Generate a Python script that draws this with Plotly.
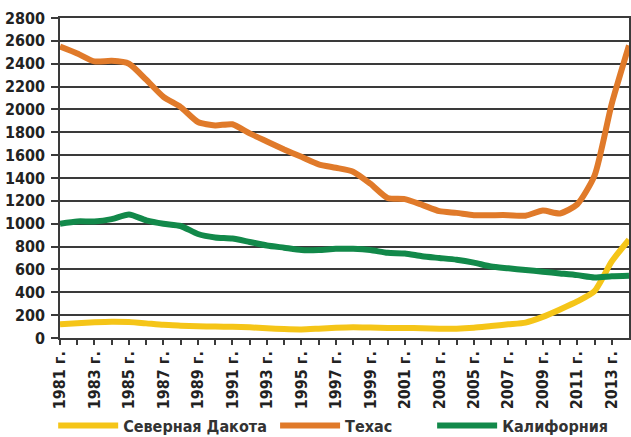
import plotly.graph_objects as go

years = list(range(1981, 2015))

north_dakota = [120, 130, 138, 143, 140, 128, 115, 108, 102, 100,
                98, 93, 85, 78, 75, 82, 90, 95, 92, 88,
                88, 85, 82, 82, 90, 105, 120, 135, 185, 250,
                320, 410, 670, 860]

texas = [2550, 2490, 2420, 2425, 2400, 2260, 2110, 2020, 1890, 1860,
         1870, 1790, 1720, 1650, 1585, 1520, 1490, 1455, 1350, 1225,
         1215, 1165, 1110, 1095, 1075, 1075, 1075, 1070, 1115, 1090,
         1170, 1420, 2050, 2560]

california = [1000, 1020, 1020, 1040, 1080, 1030, 1000, 980, 910, 880,
              870, 840, 810, 790, 770, 770, 780, 780, 770, 745,
              740, 715, 700, 685, 660, 625, 610, 595, 580, 565,
              550, 530, 540, 545]

series = [
    ('Северная Дакота', north_dakota, '#F5C518', 'legend', -0.012),
    ('Техас', texas, '#E07A2A', 'legend2', 0.378),
    ('Калифорния', california, '#12894A', 'legend3', 0.654),
]

tick_years = years[:-1]
tick_text = [f'{y} г.' if (y - 1981) % 2 == 0 else '' for y in tick_years]

font_family = 'DejaVu Sans Condensed, DejaVu Sans, sans-serif'
grid_color = '#3a3a3a'
legend_font = dict(family=font_family, size=16, color='#333333', weight='bold')

fig = go.Figure()
legends = {}
for name, values, color, legend_id, legend_x in series:
    fig.add_trace(go.Scatter(
        name=name,
        x=years,
        y=values,
        mode='lines',
        legend=legend_id,
        line=dict(color=color, width=6, shape='spline', smoothing=0.6),
    ))
    # one legend per series so each entry can sit where the original has it
    legends[legend_id] = dict(
        orientation='h',
        x=legend_x,
        xanchor='left',
        y=-0.274,
        yanchor='middle',
        bgcolor='rgba(0,0,0,0)',
        font=legend_font,
        itemwidth=60,
    )

fig.update_layout(
    width=631,
    height=437,
    margin=dict(l=60, r=2, t=18, b=99, autoexpand=False),
    paper_bgcolor='white',
    plot_bgcolor='white',
    font=dict(family=font_family, size=16, color='#222222', weight='bold'),
    showlegend=True,
    **legends,
    xaxis=dict(
        range=[1981, 2014],
        automargin=False,
        tickmode='array',
        tickvals=tick_years,
        ticktext=tick_text,
        tickangle=-90,
        ticks='outside',
        ticklen=5,
        tickwidth=1.5,
        tickcolor=grid_color,
        showgrid=False,
        showline=True,
        linecolor=grid_color,
        linewidth=1.5,
        mirror=True,
        zeroline=False,
        tickfont=dict(family=font_family, size=16, color='#222222', weight='bold'),
    ),
    yaxis=dict(
        range=[0, 2800],
        automargin=False,
        dtick=200,
        showgrid=True,
        gridcolor=grid_color,
        gridwidth=1.5,
        showline=True,
        linecolor=grid_color,
        linewidth=1.5,
        mirror=True,
        zeroline=False,
        ticks='outside',
        ticklen=7,
        tickwidth=1.5,
        tickcolor=grid_color,
        ticklabelstandoff=3,
        tickfont=dict(family=font_family, size=16, color='#222222', weight='bold'),
    ),
)

# the page keeps the browser's default 8px body margin; drop it so the chart sits at 0,0
fig.write_html('out.html', config={'displayModeBar': False},
               post_script="document.body.style.margin='0';")
